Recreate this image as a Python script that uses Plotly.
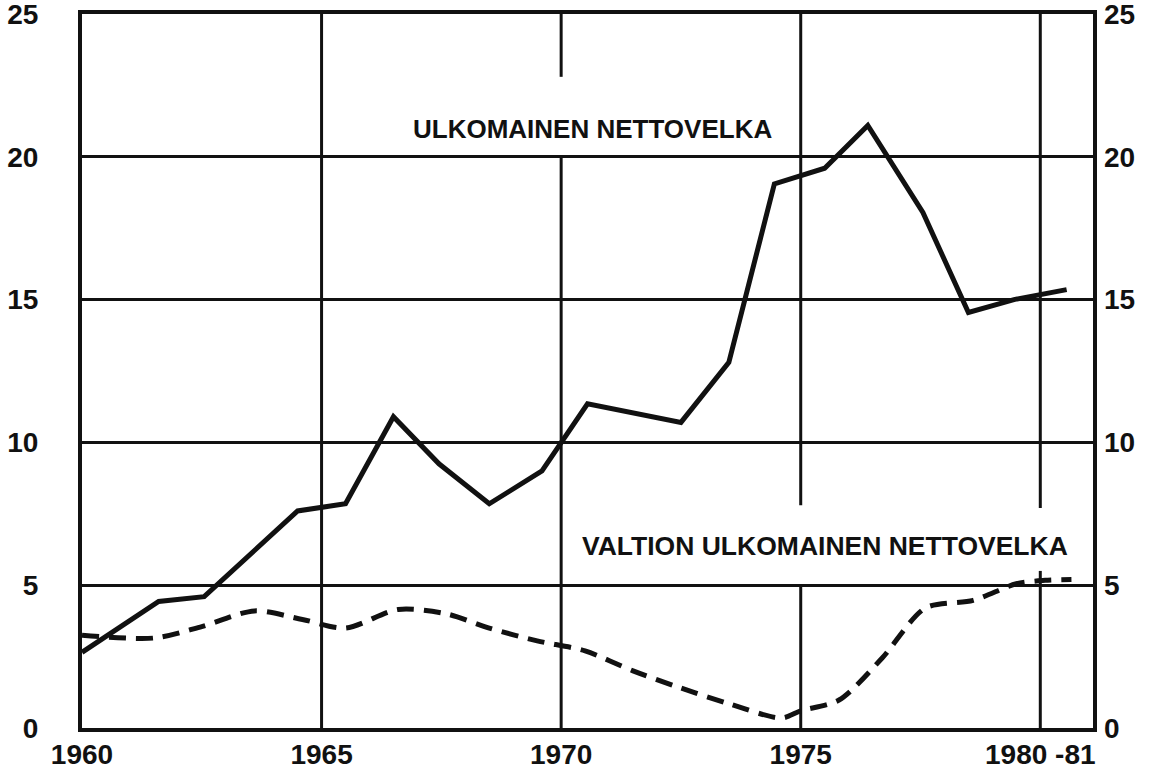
import plotly.graph_objects as go

# Ulkomainen nettovelka (solid line) - x positions in years, values
total_years = [1960.0, 1961.6, 1962.55, 1964.5, 1965.5, 1966.5, 1967.45, 1968.5,
               1969.6, 1970.55, 1972.5, 1973.5, 1974.45, 1975.5, 1976.4, 1977.55,
               1978.5, 1979.45, 1980.55]
total_debt = [2.65, 4.43, 4.6, 7.6, 7.85, 10.9, 9.25, 7.85,
              9.0, 11.35, 10.7, 12.8, 19.05, 19.6, 21.1, 18.05,
              14.55, 15.0, 15.35]

# Valtion ulkomainen nettovelka (dashed line)
state_years = [1960.0, 1961.5, 1962.5, 1963.6, 1964.6, 1965.5, 1966.6, 1967.6,
               1968.5, 1969.5, 1970.5, 1971.5, 1972.5, 1973.5, 1974.6, 1975.0,
               1975.8, 1976.7, 1977.6, 1978.6, 1979.5, 1980.1, 1980.65]
state_debt = [3.25, 3.15, 3.55, 4.1, 3.8, 3.5, 4.15, 4.0,
              3.5, 3.05, 2.7, 2.0, 1.4, 0.85, 0.35, 0.6,
              0.98, 2.45, 4.2, 4.47, 5.05, 5.17, 5.2]

x_tickvals = [1960, 1965, 1970, 1975, 1980]
x_ticktext = ["1960", "1965", "1970", "1975", "1980 -81"]
y_tickvals = [0, 5, 10, 15, 20, 25]

label_total = "ULKOMAINEN NETTOVELKA"
label_state = "VALTION ULKOMAINEN NETTOVELKA"

# vertical grid segments (gaps where the labels sit)
vgrid = {
    1965: [(0, 25)],
    1970: [(0, 20), (22.8, 25)],
    1975: [(0, 5), (7.8, 25)],
    1980: [(0, 5.5), (7.7, 25)],
}

FONT = "Liberation Sans, Arial, sans-serif"
BLACK = "#111111"

fig = go.Figure()
fig.add_trace(go.Scatter(
    x=state_years, y=state_debt, mode="lines",
    line=dict(color=BLACK, width=5, dash="17px,10px", shape="spline", smoothing=0.8),
    showlegend=False, hoverinfo="skip"))
fig.add_trace(go.Scatter(
    x=total_years, y=total_debt, mode="lines",
    line=dict(color=BLACK, width=5),
    showlegend=False))
# invisible trace to carry the right-hand axis
fig.add_trace(go.Scatter(
    x=total_years, y=total_debt, mode="lines", yaxis="y2",
    line=dict(color="rgba(0,0,0,0)", width=0), showlegend=False, hoverinfo="skip"))

shapes = []
for xv, segs in vgrid.items():
    for y0, y1 in segs:
        shapes.append(dict(type="line", xref="x", yref="y", x0=xv, x1=xv, y0=y0, y1=y1,
                           line=dict(color=BLACK, width=3), layer="below"))

tickfont = dict(size=28, family=FONT, weight="bold", color=BLACK)

fig.update_layout(
    width=1151, height=772,
    margin=dict(l=82, r=58, t=14, b=44, autoexpand=False),
    paper_bgcolor="white", plot_bgcolor="white",
    font=dict(family=FONT, color=BLACK),
    shapes=shapes,
    xaxis=dict(range=[1960, 1981.1], tickvals=x_tickvals, ticktext=x_ticktext,
               showgrid=False, zeroline=False, showline=True, linewidth=4,
               linecolor=BLACK, mirror=True, ticks="", ticklen=0, automargin=False,
               ticklabeloverflow="allow", tickfont=tickfont, ticklabelstandoff=-2),
    yaxis=dict(range=[0, 25], tickvals=y_tickvals, showgrid=True, gridcolor=BLACK,
               gridwidth=3, zeroline=False, showline=True, linewidth=4,
               linecolor=BLACK, mirror=True, ticks="", automargin=False,
               ticklabeloverflow="allow", tickfont=tickfont, ticklabelstandoff=34),
    yaxis2=dict(range=[0, 25], tickvals=y_tickvals, overlaying="y", side="right",
                showgrid=False, zeroline=False, showline=False, ticks="",
                automargin=False, ticklabeloverflow="allow", tickfont=tickfont,
                ticklabelstandoff=10),
    annotations=[
        dict(x=1970.66, y=20.98, xref="x", yref="y", text=label_total, showarrow=False,
             font=dict(size=26, family=FONT, weight="bold", color=BLACK)),
        dict(x=1975.5, y=6.39, xref="x", yref="y", text=label_state, showarrow=False,
             font=dict(size=26.5, family=FONT, weight="bold", color=BLACK)),
    ],
)

fig.write_html("out.html", config={"displayModeBar": False},
               post_script="document.body.style.margin='0';")
